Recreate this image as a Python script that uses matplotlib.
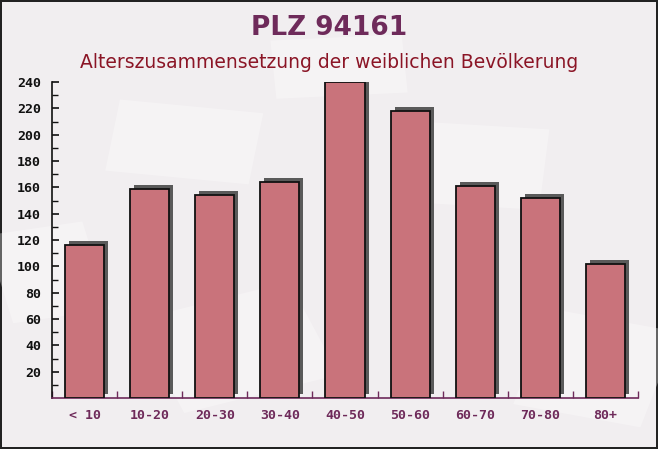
import numpy as np
import matplotlib
matplotlib.use("Agg")
import matplotlib.pyplot as plt
import matplotlib.transforms as mtransforms
from matplotlib.patches import Rectangle

# data
groups = ["< 10", "10-20", "20-30", "30-40", "40-50", "50-60", "60-70", "70-80", "80+"]
values = [116, 159, 154, 164, 240, 218, 161, 152, 102]
yticks = list(range(20, 241, 20))

fig = plt.figure(figsize=(6.58, 4.49), dpi=100)
fig.patch.set_facecolor("#f1eef0")
fig.patch.set_edgecolor("#222222")
fig.patch.set_linewidth(1.5)

# faint envelope-like shapes in the background
for (x, y, w, h, ang) in [(0.16, 0.62, 0.22, 0.16, -8), (0.02, 0.28, 0.15, 0.2, 12),
                          (0.28, 0.08, 0.25, 0.22, 20), (0.62, 0.55, 0.2, 0.18, -5),
                          (0.78, 0.1, 0.2, 0.22, -15), (0.42, 0.78, 0.2, 0.13, 4)]:
    r = Rectangle((x, y), w, h, angle=ang, transform=fig.transFigure,
                  facecolor="white", alpha=0.3, edgecolor="none", zorder=-5)
    fig.patches.append(r)

ax = fig.add_axes([52 / 658, 1 - 398 / 449, 586 / 658, 316 / 449])
ax.set_facecolor("none")
ax.set_zorder(2)

x = np.arange(len(groups))
shadow = mtransforms.offset_copy(ax.transData, fig=fig, x=4, y=4, units="dots")
ax.bar(x, values, width=0.6, color="#5a5a5a", transform=shadow, zorder=2)
ax.bar(x, values, width=0.6, color="#c9737b", edgecolor="#111111",
       linewidth=1.3, zorder=3)

ax.set_xlim(-0.5, len(groups) - 0.5)
ax.set_ylim(0, 240)
ax.set_yticks(yticks)
ax.set_yticks(np.arange(10, 240, 20), minor=True)
ax.set_xticks(x)
ax.set_xticklabels(groups)
ax.set_xticks(np.arange(-0.5, len(groups), 1), minor=True)

for s in ["top", "right"]:
    ax.spines[s].set_visible(False)
ax.spines["left"].set_color("#111111")
ax.spines["bottom"].set_color("#6e2a5a")
ax.spines["left"].set_linewidth(1.2)
ax.spines["bottom"].set_linewidth(1.2)

ax.tick_params(axis="y", which="major", direction="in", length=5, width=1.2,
               colors="#111111", labelsize=9.5, pad=8)
ax.tick_params(axis="y", which="minor", direction="in", length=4, width=1.0, color="#111111")
ax.tick_params(axis="x", which="major", length=0, pad=8, labelcolor="#6e2a5a", labelsize=9.5)
ax.tick_params(axis="x", which="minor", direction="in", length=5, width=1.0, color="#6e2a5a")
for lab in ax.get_xticklabels() + ax.get_yticklabels():
    lab.set_family("DejaVu Sans Mono")
    lab.set_fontweight("bold")

fig.text(0.5, 1 - 28 / 449, "PLZ 94161", ha="center", va="center",
         fontsize=19, fontweight="bold", color="#6e2a5a")
fig.text(0.5, 1 - 62 / 449, "Alterszusammensetzung der weiblichen Bevölkerung",
         ha="center", va="center", fontsize=13.5, color="#8b1526")

fig.savefig("out.png", dpi=100, facecolor=fig.get_facecolor(), edgecolor=fig.get_edgecolor())
